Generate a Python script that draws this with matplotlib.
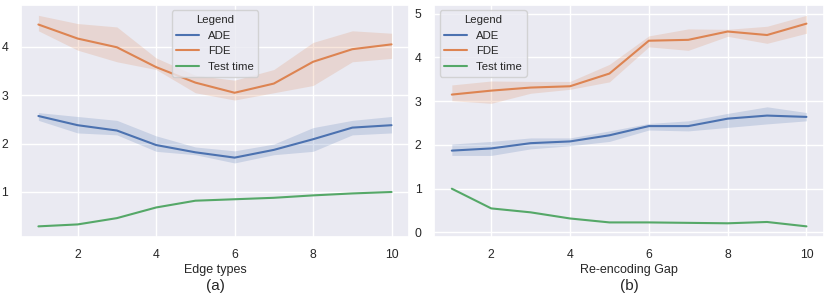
import matplotlib
matplotlib.use("Agg")
import matplotlib.pyplot as plt
import seaborn as sns
import numpy as np

x = [1, 2, 3, 4, 5, 6, 7, 8, 9, 10]

# (a) Edge types
a_fde = [4.46, 4.17, 3.99, 3.58, 3.26, 3.05, 3.24, 3.69, 3.95, 4.05]
a_fde_hi = [4.65, 4.48, 4.41, 3.77, 3.41, 3.31, 3.53, 4.09, 4.33, 4.28]
a_fde_lo = [4.33, 3.93, 3.69, 3.53, 3.05, 2.90, 3.05, 3.20, 3.69, 3.76]
a_ade = [2.57, 2.38, 2.27, 1.97, 1.82, 1.71, 1.87, 2.09, 2.33, 2.38]
a_ade_hi = [2.64, 2.56, 2.48, 2.16, 1.93, 1.85, 1.99, 2.33, 2.48, 2.56]
a_ade_lo = [2.48, 2.22, 2.18, 1.84, 1.77, 1.60, 1.77, 1.84, 2.18, 2.22]
a_time = [0.29, 0.33, 0.46, 0.68, 0.82, 0.85, 0.88, 0.93, 0.97, 1.00]

# (b) Re-encoding Gap
b_fde = [3.15, 3.24, 3.31, 3.34, 3.63, 4.38, 4.40, 4.59, 4.51, 4.77]
b_fde_hi = [3.37, 3.46, 3.45, 3.45, 3.84, 4.49, 4.65, 4.64, 4.71, 4.96]
b_fde_lo = [3.01, 2.95, 3.18, 3.27, 3.44, 4.24, 4.16, 4.48, 4.32, 4.55]
b_ade = [1.87, 1.92, 2.04, 2.08, 2.22, 2.43, 2.43, 2.60, 2.67, 2.64]
b_ade_hi = [2.02, 2.08, 2.16, 2.16, 2.32, 2.49, 2.55, 2.72, 2.87, 2.74]
b_ade_lo = [1.76, 1.76, 1.91, 1.98, 2.08, 2.34, 2.32, 2.40, 2.48, 2.55]
b_time = [1.00, 0.55, 0.46, 0.32, 0.23, 0.23, 0.22, 0.21, 0.24, 0.14]

sns.set_theme(style="darkgrid")
plt.rcParams['font.family'] = ['Liberation Sans', 'DejaVu Sans']

pal = sns.color_palette("deep")
c_ade, c_fde, c_time = pal[0], pal[1], pal[2]

fig = plt.figure(figsize=(8.3, 2.98), dpi=100)
ax1 = fig.add_axes([0.025, 0.205, 0.468, 0.779])
ax2 = fig.add_axes([0.523, 0.205, 0.470, 0.779])

def draw(ax, ade, ade_lo, ade_hi, fde, fde_lo, fde_hi, t, xlabel, sub, loc):
    ax.plot(x, ade, color=c_ade, lw=1.5, label="ADE")
    ax.fill_between(x, ade_lo, ade_hi, color=c_ade, alpha=0.2, lw=0)
    ax.plot(x, fde, color=c_fde, lw=1.5, label="FDE")
    ax.fill_between(x, fde_lo, fde_hi, color=c_fde, alpha=0.2, lw=0)
    ax.plot(x, t, color=c_time, lw=1.5, label="Test time")
    ax.set_xticks([2, 4, 6, 8, 10])
    ax.tick_params(labelsize=8.8, pad=3)
    ax.set_xlabel(xlabel, fontsize=9, labelpad=2)
    ax.text(0.5, -0.18, sub, transform=ax.transAxes, ha="center", va="top",
            fontsize=11)
    ax.legend(title="Legend", loc=loc, fontsize=8.2, title_fontsize=8.2)

draw(ax1, a_ade, a_ade_lo, a_ade_hi, a_fde, a_fde_lo, a_fde_hi, a_time,
     "Edge types", "(a)", "upper center")
draw(ax2, b_ade, b_ade_lo, b_ade_hi, b_fde, b_fde_lo, b_fde_hi, b_time,
     "Re-encoding Gap", "(b)", "upper left")

fig.savefig("out.png", dpi=100)
